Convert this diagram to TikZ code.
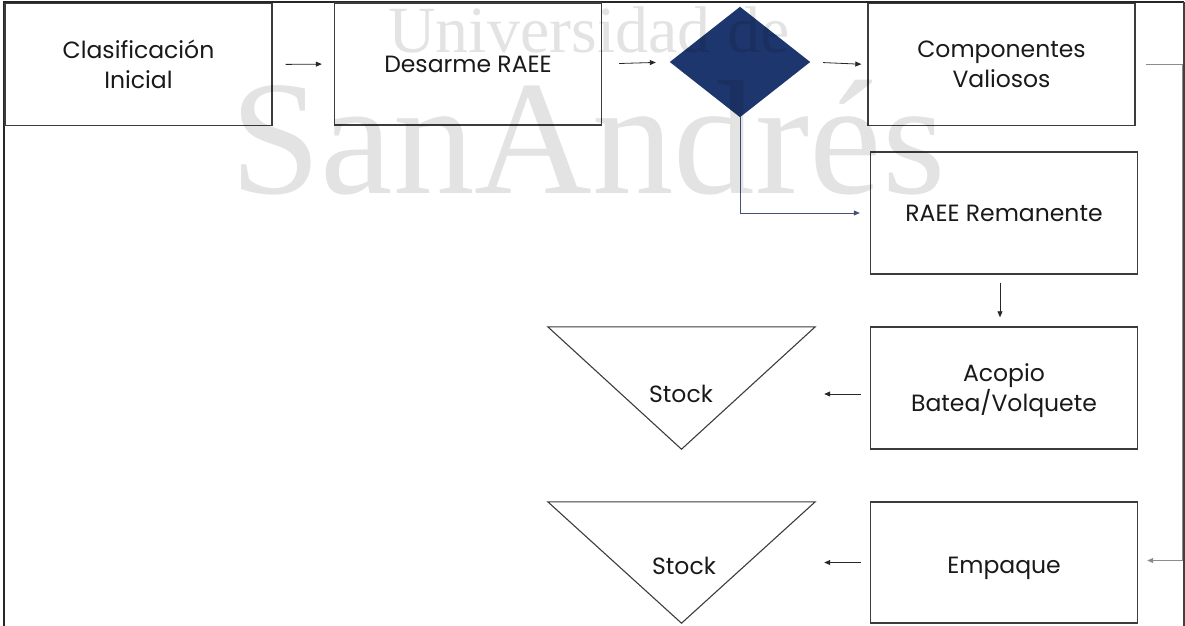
\documentclass[tikz,border=0pt]{standalone}
\usepackage{fontspec}
\setmainfont{Poppins}
\newfontfamily\wmfont{Liberation Serif}
\usetikzlibrary{arrows.meta}
\definecolor{navy}{RGB}{29,54,110}
\definecolor{boxline}{RGB}{60,60,60}
\definecolor{txt}{RGB}{25,25,25}
\definecolor{conn}{RGB}{40,40,40}
\tikzset{
  procbox/.style={draw=boxline, line width=1.4pt, minimum width=267pt, minimum height=122pt,
    inner sep=0pt, align=center, text=txt, font=\fontsize{23.5}{30}\selectfont},
  boxtext/.style={inner sep=0pt, align=center, text=txt, font=\fontsize{23.5}{30}\selectfont},
  holder/.style={minimum width=267pt, minimum height=122pt, inner sep=0pt},
  flow/.style={draw=conn, line width=0.8pt, -{Triangle[length=6pt,width=5pt]}},
  stocktext/.style={text=txt, font=\fontsize{23.5}{30}\selectfont, inner sep=0pt},
  wm/.style={text=black, opacity=0.11, inner sep=0pt, anchor=base west}
}
\begin{document}
\begin{tikzpicture}[x=1pt,y=-1pt]
\useasboundingbox (0,0) rectangle (1185,625);
% frame
\draw[line width=2.6pt, color=black!85] (4,626) -- (4,2) -- (1184,2);
\draw[line width=1.2pt, color=black!75] (1184,2) -- (1184,626);
% boxes
\node[procbox] (clas) at (138.5,64.5) {Clasificación\\Inicial};
\node[procbox] (des) at (468,64) {Desarme RAEE};
\node[procbox] (comp) at (1001.5,64.5) {Componentes\\Valiosos};
\node[procbox] (rem) at (1004,213) {RAEE Remanente};
\node[procbox] (aco) at (1004,388) {};
\node[boxtext] (acot) at ([yshift=-2.5pt]aco.center) {Acopio\\Batea/Volquete};
\node[procbox, minimum height=121pt] (emp) at (1004,562.5) {};
\node[boxtext] (empt) at ([yshift=-6pt]emp.center) {Empaque};
% decision diamond
\node[minimum width=140pt, minimum height=110pt, inner sep=0pt] (dia) at (740,62) {};
\fill[navy] (dia.north) -- (dia.east) -- (dia.south) -- (dia.west) -- cycle;
% stock triangles
\node[holder] (st1) at (681.5,388) {};
\draw[draw=boxline, line width=1.1pt] (st1.north west) -- (st1.north east) -- (st1.south) -- cycle;
\node[stocktext] (st1t) at (681,394) {Stock};
\node[holder, minimum height=121pt] (st2) at (681.5,562.5) {};
\draw[draw=boxline, line width=1.1pt] (st2.north west) -- (st2.north east) -- (st2.south) -- cycle;
\node[stocktext] (st2t) at (684,566) {Stock};
% connectors
\draw[flow, shorten <=13pt, shorten >=12pt] (clas.east) -- (des.west);
\draw[flow, shorten <=17pt, shorten >=14pt] (des.east) -- (dia.west);
\draw[flow, shorten <=13pt, shorten >=6pt] (dia.east) -- (comp.west);
\draw[flow, draw=navy!60!gray, shorten >=10pt] (dia.south) |- (rem.west);
\draw[flow, shorten <=8pt, shorten >=9pt] ([xshift=-4pt]rem.south) -- ([xshift=-4pt]aco.north);
\draw[flow, shorten <=9pt, shorten >=9pt] ([yshift=-6pt]aco.west) -- ([yshift=-6pt]st1.east);
\draw[flow, shorten <=9pt, shorten >=9pt] (emp.west) -- (st2.east);
\draw[flow, draw=black!45, shorten <=10pt, shorten >=9pt] (comp.east) -- ++(47,0) |- ([yshift=2pt]emp.east);
% watermark
\node[wm, font=\wmfont\fontsize{66}{66}\selectfont] (wm1) at (388,52) {Universidad de};
\node[wm, font=\wmfont\fontsize{163}{163}\selectfont] (wm2) at (230,193) {SanAndrés};
\end{tikzpicture}
\end{document}
